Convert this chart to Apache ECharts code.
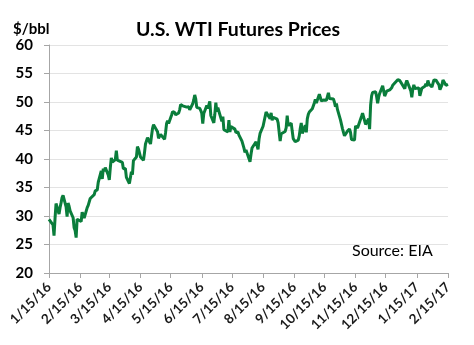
<!DOCTYPE html>
<html><head><meta charset="utf-8">
<script src="https://cdn.jsdelivr.net/npm/echarts@6/dist/echarts.min.js"></script>
<style>html,body{margin:0;padding:0;background:#fff}#c{width:474px;height:345px}</style>
</head><body><div id="c"></div>
<script>
const titleText = "U.S. WTI Futures Prices";
const unitText = "$/bbl";
const sourceText = "Source: EIA";
const tickDates = ["2016-01-15","2016-02-15","2016-03-15","2016-04-15","2016-05-15","2016-06-15","2016-07-15","2016-08-15","2016-09-15","2016-10-15","2016-11-15","2016-12-15","2017-01-15","2017-02-15"];
const yTicks = [20,25,30,35,40,45,50,55,60];
const dates = [
"2016-01-15","2016-01-19","2016-01-20","2016-01-21","2016-01-22","2016-01-25","2016-01-26","2016-01-27","2016-01-28","2016-01-29",
"2016-02-01","2016-02-02","2016-02-03","2016-02-04","2016-02-05","2016-02-08","2016-02-09","2016-02-10","2016-02-11","2016-02-12",
"2016-02-16","2016-02-17","2016-02-18","2016-02-19","2016-02-22","2016-02-23","2016-02-24","2016-02-25","2016-02-26","2016-02-29",
"2016-03-01","2016-03-02","2016-03-03","2016-03-04","2016-03-07","2016-03-08","2016-03-09","2016-03-10","2016-03-11","2016-03-14",
"2016-03-15","2016-03-16","2016-03-17","2016-03-18","2016-03-21","2016-03-22","2016-03-23","2016-03-24","2016-03-28","2016-03-29",
"2016-03-30","2016-03-31","2016-04-01","2016-04-04","2016-04-05","2016-04-06","2016-04-07","2016-04-08","2016-04-11","2016-04-12",
"2016-04-13","2016-04-14","2016-04-15","2016-04-18","2016-04-19","2016-04-20","2016-04-21","2016-04-22","2016-04-25","2016-04-26",
"2016-04-27","2016-04-28","2016-04-29","2016-05-02","2016-05-03","2016-05-04","2016-05-05","2016-05-06","2016-05-09","2016-05-10",
"2016-05-11","2016-05-12","2016-05-13","2016-05-16","2016-05-17","2016-05-18","2016-05-19","2016-05-20","2016-05-23","2016-05-24",
"2016-05-25","2016-05-26","2016-05-27","2016-05-31","2016-06-01","2016-06-02","2016-06-03","2016-06-06","2016-06-07","2016-06-08",
"2016-06-09","2016-06-10","2016-06-13","2016-06-14","2016-06-15","2016-06-16","2016-06-17","2016-06-20","2016-06-21","2016-06-22",
"2016-06-23","2016-06-24","2016-06-27","2016-06-28","2016-06-29","2016-06-30","2016-07-01","2016-07-05","2016-07-06","2016-07-07",
"2016-07-08","2016-07-11","2016-07-12","2016-07-13","2016-07-14","2016-07-15","2016-07-18","2016-07-19","2016-07-20","2016-07-21",
"2016-07-22","2016-07-25","2016-07-26","2016-07-27","2016-07-28","2016-07-29","2016-08-01","2016-08-02","2016-08-03","2016-08-04",
"2016-08-05","2016-08-08","2016-08-09","2016-08-10","2016-08-11","2016-08-12","2016-08-15","2016-08-16","2016-08-17","2016-08-18",
"2016-08-19","2016-08-22","2016-08-23","2016-08-24","2016-08-25","2016-08-26","2016-08-29","2016-08-30","2016-08-31","2016-09-01",
"2016-09-02","2016-09-06","2016-09-07","2016-09-08","2016-09-09","2016-09-12","2016-09-13","2016-09-14","2016-09-15","2016-09-16",
"2016-09-19","2016-09-20","2016-09-21","2016-09-22","2016-09-23","2016-09-26","2016-09-27","2016-09-28","2016-09-29","2016-09-30",
"2016-10-03","2016-10-04","2016-10-05","2016-10-06","2016-10-07","2016-10-10","2016-10-11","2016-10-12","2016-10-13","2016-10-14",
"2016-10-17","2016-10-18","2016-10-19","2016-10-20","2016-10-21","2016-10-24","2016-10-25","2016-10-26","2016-10-27","2016-10-28",
"2016-10-31","2016-11-01","2016-11-02","2016-11-03","2016-11-04","2016-11-07","2016-11-08","2016-11-09","2016-11-10","2016-11-11",
"2016-11-14","2016-11-15","2016-11-16","2016-11-17","2016-11-18","2016-11-21","2016-11-22","2016-11-23","2016-11-25","2016-11-28",
"2016-11-29","2016-11-30","2016-12-01","2016-12-02","2016-12-05","2016-12-06","2016-12-07","2016-12-08","2016-12-09","2016-12-12",
"2016-12-13","2016-12-14","2016-12-15","2016-12-16","2016-12-19","2016-12-20","2016-12-21","2016-12-22","2016-12-23","2016-12-27",
"2016-12-28","2016-12-29","2016-12-30","2017-01-03","2017-01-04","2017-01-05","2017-01-06","2017-01-09","2017-01-10","2017-01-11",
"2017-01-12","2017-01-13","2017-01-17","2017-01-18","2017-01-19","2017-01-20","2017-01-23","2017-01-24","2017-01-25","2017-01-26",
"2017-01-27","2017-01-30","2017-01-31","2017-02-01","2017-02-02","2017-02-03","2017-02-06","2017-02-07","2017-02-08","2017-02-09",
"2017-02-10","2017-02-13","2017-02-14","2017-02-15"
];
const prices = [
29.42,28.46,26.55,29.53,32.19,30.34,31.45,32.30,33.22,33.62,
31.62,29.88,32.28,31.72,30.89,29.69,27.94,27.45,26.21,29.44,
29.04,30.66,30.77,29.64,31.48,31.87,32.15,33.07,32.78,33.75,
34.40,34.66,34.57,35.92,37.90,36.50,38.29,37.84,38.50,37.18,
36.34,38.46,40.20,39.44,39.91,41.45,39.79,39.46,39.39,38.28,
38.32,38.34,36.79,35.70,35.89,37.75,37.26,39.72,40.36,42.17,
41.76,41.50,40.36,39.78,41.08,42.63,43.18,43.73,42.64,44.04,
45.33,46.03,45.92,44.78,43.65,43.78,44.32,44.66,43.44,44.66,
46.23,46.70,46.21,47.72,48.31,48.19,48.16,47.75,48.08,48.62,
49.56,49.48,49.33,49.10,49.01,49.17,48.62,49.69,50.36,51.23,
50.56,49.07,48.88,48.49,48.01,46.21,47.98,49.37,48.85,49.13,
50.11,47.64,46.33,47.85,49.88,48.33,48.99,46.60,47.43,45.14,
45.41,44.76,46.80,44.75,45.68,45.95,45.24,44.65,44.94,44.75,
44.19,43.13,42.92,41.92,41.14,41.60,40.06,39.51,40.83,41.93,
41.80,43.02,42.77,41.71,43.49,44.49,45.74,46.58,46.79,48.22,
48.52,47.05,48.10,46.77,47.33,47.64,46.98,46.35,44.70,43.16,
44.44,44.83,45.50,47.62,45.88,46.29,44.90,43.58,43.91,43.03,
43.30,44.05,45.34,46.32,44.48,45.93,44.67,47.05,47.83,48.24,
48.81,48.69,49.83,50.44,49.81,51.35,50.79,50.18,50.44,50.35,
50.29,50.29,51.60,50.63,50.85,50.52,49.96,49.18,49.72,48.70,
46.86,46.67,45.34,44.66,44.07,44.89,44.98,45.27,44.66,43.41,
43.32,45.81,45.57,45.42,45.69,47.49,48.03,47.96,46.06,47.08,
45.23,49.44,51.06,51.68,51.79,50.93,49.77,50.84,51.50,52.83,
52.98,51.04,50.90,51.90,52.12,52.23,52.49,52.95,53.02,53.90,
54.06,53.77,53.72,52.33,53.26,53.76,53.99,51.96,50.82,52.25,
53.01,52.37,52.48,51.08,51.37,52.42,52.75,53.18,52.75,53.78,
53.17,52.63,52.81,53.88,53.54,53.83,53.01,52.17,52.34,53.00,
53.86,52.93,53.20,53.11
];

const DAY = 86400000;
function ts(s){const p=s.split("-").map(Number);return Date.UTC(p[0],p[1]-1,p[2]);}
const t0 = ts(tickDates[0]);
function dayIdx(s){return Math.round((ts(s)-t0)/DAY);}
const tickDays = tickDates.map(dayIdx);
const tickLabelByDay = {};
tickDates.forEach(function(s){const p=s.split("-").map(Number);tickLabelByDay[dayIdx(s)] = p[1]+"/"+p[2]+"/"+String(p[0]).slice(2);});
const seriesData = dates.map((d,i)=>[dayIdx(d),prices[i]]);
const FONT = "Lato";

const chart = echarts.init(document.getElementById('c'), null, {renderer:'canvas'});
chart.setOption({
  animation:false,
  backgroundColor:'#fff',
  title:[
    {text:titleText,left:233,top:15,textAlign:'center',textStyle:{fontFamily:FONT,fontWeight:'bold',fontSize:19.5,color:'#000'}},
    {text:unitText,left:8,top:17,textStyle:{fontFamily:FONT,fontWeight:'bold',fontSize:15,color:'#000'}}
  ],
  grid:{left:49,right:26,top:45,bottom:72,containLabel:false},
  xAxis:{
    type:'value',min:tickDays[0],max:tickDays[tickDays.length-1],
    axisLine:{show:true,lineStyle:{color:'#a6a6a6',width:1}},
    axisTick:{show:true,length:5,lineStyle:{color:'#a6a6a6'},customValues:tickDays},
    splitLine:{show:false},
    axisLabel:{
      customValues:tickDays,rotate:45,margin:12,
      fontFamily:FONT,fontWeight:'bold',fontSize:13.5,color:'#1a1a1a',
      formatter:function(v){return tickLabelByDay[Math.round(v)]||'';}
    }
  },
  yAxis:{
    type:'value',min:yTicks[0],max:yTicks[yTicks.length-1],interval:5,
    axisLine:{show:true,lineStyle:{color:'#a6a6a6',width:1}},
    axisTick:{show:true,length:5,lineStyle:{color:'#a6a6a6'}},
    splitLine:{show:true,lineStyle:{color:'#e3e3e3',width:1}},
    axisLabel:{fontFamily:FONT,fontWeight:'bold',fontSize:15,color:'#000',margin:16}
  },
  graphic:[{type:'text',left:352,top:243,style:{text:sourceText,fontFamily:FONT,fontSize:16,fill:'#000'}}],
  series:[{type:'line',data:seriesData,showSymbol:false,symbol:'none',lineStyle:{color:'#0a7d3b',width:3},itemStyle:{color:'#0a7d3b'}}]
});
</script></body></html>
